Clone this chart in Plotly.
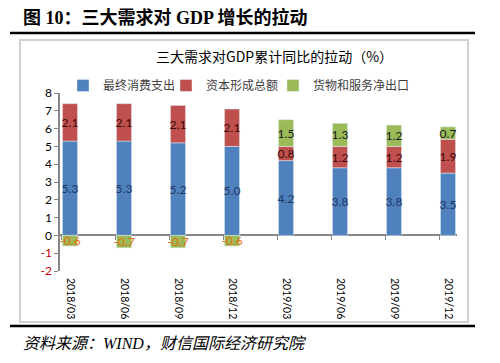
import plotly.graph_objects as go

categories = ["2018/03", "2018/06", "2018/09", "2018/12", "2019/03", "2019/06", "2019/09", "2019/12"]
consumption = [5.3, 5.3, 5.2, 5.0, 4.2, 3.8, 3.8, 3.5]
capital = [2.1, 2.1, 2.1, 2.1, 0.8, 1.2, 1.2, 1.9]
net_exports = [-0.6, -0.7, -0.7, -0.6, 1.5, 1.3, 1.2, 0.7]
series_names = ["最终消费支出", "资本形成总额", "货物和服务净出口"]
y_ticks = [8, 7, 6, 5, 4, 3, 2, 1, 0, -1, -2]

W, H = 500, 363
L, R, T, B = 60, 457, 93, 271  # plot area in px


def px_x(p):
    return (p - L) / (R - L)


def px_y(p):
    return (B - p) / (B - T)


xs = list(range(len(categories)))
label_font = "Lato, Liberation Sans, sans-serif"

common = dict(width=0.28, textposition="inside", insidetextanchor="middle",
              textangle=0, constraintext="none", cliponaxis=False)

fig = go.Figure()
fig.add_trace(go.Bar(
    x=xs, y=consumption, name=series_names[0], marker_color="#4F81BD", legend="legend",
    text=[f"{v:.1f}" for v in consumption],
    textfont=dict(color="#1F3864", size=12, family=label_font), **common))
fig.add_trace(go.Bar(
    x=xs, y=capital, name=series_names[1], marker_color="#C0504D", legend="legend2",
    text=[f"{v:.1f}" for v in capital],
    textfont=dict(color="#3A0C0C", size=12, family=label_font), **common))
fig.add_trace(go.Bar(
    x=xs, y=net_exports, name=series_names[2], marker_color="#9BBB59", legend="legend3",
    text=[f"{v:.1f}" for v in net_exports],
    textfont=dict(color=["#E46C0A" if v < 0 else "#1A1A1A" for v in net_exports],
                  size=12, family=label_font), **common))
# invisible trace for tick-only overlay axis
fig.add_trace(go.Scatter(x=[0], y=[0], xaxis="x2", mode="markers",
                         marker=dict(opacity=0), showlegend=False, hoverinfo="skip"))

xr = [(L - 70) / 54, (R - 70) / 54]

tick_text = [f"<span style='color:#C00000'>{v}</span>" if v < 0 else str(v) for v in y_ticks]


def leg(xpx):
    return dict(orientation="h", x=px_x(xpx), y=px_y(71), xanchor="left", yanchor="top",
                font=dict(size=12, color="#404040", family="Noto Sans CJK SC"),
                itemwidth=30, bgcolor="rgba(0,0,0,0)")


fig.update_layout(
    width=W, height=H,
    margin=dict(l=L, r=W - R, t=T, b=H - B, autoexpand=False),
    barmode="relative",
    uniformtext=dict(minsize=12, mode="show"),
    plot_bgcolor="white", paper_bgcolor="white",
    font=dict(family="Lato, Noto Sans CJK SC, sans-serif", color="#000000"),
    xaxis=dict(range=xr, tickvals=xs, ticktext=categories, tickangle=90,
               showgrid=False, showline=False, zeroline=False, ticks="",
               tickfont=dict(size=10.5, color="#000000"), ticklabelstandoff=6,
               automargin=False),
    xaxis2=dict(range=xr, overlaying="x", anchor="free", position=0.2,
                tickvals=[x - 0.16 for x in xs], showticklabels=False,
                ticks="outside", ticklen=4, tickcolor="#868686",
                showline=False, showgrid=False, zeroline=False),
    yaxis=dict(range=[-2, 8], tickvals=y_ticks, ticktext=tick_text,
               showgrid=False, showline=True, linecolor="#868686", linewidth=1.5,
               ticks="outside", ticklen=4, tickcolor="#868686",
               zeroline=True, zerolinecolor="#868686", zerolinewidth=1.5,
               tickfont=dict(size=12, color="#000000"), automargin=False),
    legend=leg(63), legend2=leg(166), legend3=leg(273),
    showlegend=True,
)

shapes = [
    dict(type="rect", xref="paper", yref="paper", x0=px_x(20), x1=px_x(468),
         y0=px_y(322), y1=px_y(40), line=dict(color="#D0D0D0", width=2),
         fillcolor="rgba(0,0,0,0)", layer="below"),
    dict(type="line", xref="paper", yref="paper", x0=px_x(10), x1=px_x(475),
         y0=px_y(33), y1=px_y(33), line=dict(color="#000000", width=2.5)),
    dict(type="line", xref="paper", yref="paper", x0=px_x(10), x1=px_x(475),
         y0=px_y(326), y1=px_y(326), line=dict(color="#000000", width=2.5)),
]
fig.update_layout(shapes=shapes)

annotations = [
    dict(text="<b>图 10：三大需求对 GDP 增长的拉动</b>", xref="paper", yref="paper",
         x=px_x(21), y=px_y(17), xanchor="left", yanchor="middle", showarrow=False,
         font=dict(size=18, color="#000000", family="Liberation Serif, Noto Sans CJK SC")),
    dict(text="三大需求对GDP累计同比的拉动（%）", xref="paper", yref="paper",
         x=px_x(274), y=px_y(56), xanchor="center", yanchor="middle", showarrow=False,
         font=dict(size=14, color="#000000", family="Noto Sans CJK SC")),
    dict(text="<i>资料来源：WIND，财信国际经济研究院</i>", xref="paper", yref="paper",
         x=px_x(21), y=px_y(343), xanchor="left", yanchor="middle", showarrow=False,
         font=dict(size=16, color="#000000", family="Liberation Serif, Noto Sans CJK SC")),
]
fig.update_layout(annotations=annotations)

fig.write_html("out.html", config={"displayModeBar": False},
               post_script="document.body.style.margin='0';document.body.style.padding='0';")
